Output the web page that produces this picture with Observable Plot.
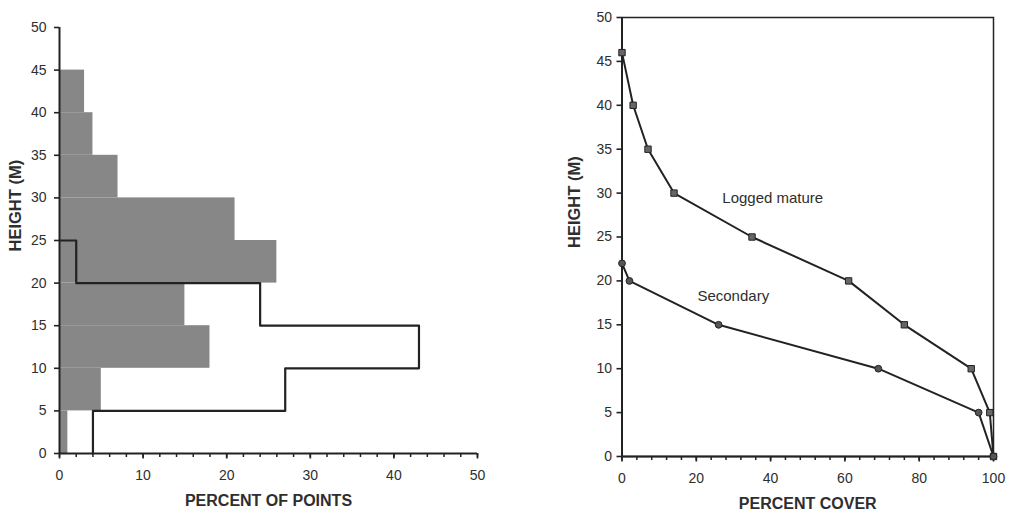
<!DOCTYPE html>
<html>
<head>
<meta charset="utf-8">
<script src="https://cdn.jsdelivr.net/npm/d3@7"></script>
<script src="https://cdn.jsdelivr.net/npm/@observablehq/plot@0.6"></script>
<style>
  html, body { margin: 0; padding: 0; background: #fff; }
  #wrap { display: flex; width: 1015px; height: 517px; overflow: hidden; }
</style>
</head>
<body>
<div id="wrap"></div>
<script>
// ---- Left panel: histogram (percent of points by height class) ----
const binLower = [0, 5, 10, 15, 20, 25, 30, 35, 40, 45];
const binWidth = 5;
const loggedPct = [1, 5, 18, 15, 26, 21, 7, 4, 3, 0];      // gray filled bars
const secondaryPct = [4, 27, 43, 24, 2, 0, 0, 0, 0, 0];    // black outline
const leftXTicks = [0, 10, 20, 30, 40, 50];
const leftXMinor = d3.range(0, 51, 2);
const heightTicks = [0, 5, 10, 15, 20, 25, 30, 35, 40, 45, 50];

// ---- Right panel: cumulative percent cover by height ----
const loggedHeights = [46, 40, 35, 30, 25, 20, 15, 10, 5, 0];
const loggedCover = [0, 3, 7, 14, 35, 61, 76, 94, 99, 100];
const secondaryHeights = [22, 20, 15, 10, 5, 0];
const secondaryCover = [0, 2, 26, 69, 96, 100];
const rightXTicks = [0, 20, 40, 60, 80, 100];
const rightXMinor = d3.range(0, 101, 4);
const seriesLabels = [
  {name: "Logged mature", cover: 27, height: 29.4},
  {name: "Secondary", cover: 20.3, height: 18.3}
];

const FONT = "'Liberation Sans', Arial, Helvetica, sans-serif";
const INK = "#222";
const TXT = "#2e2e2e";

// build tables
const barsLogged = binLower.map((lo, i) => ({lo, hi: lo + binWidth, v: loggedPct[i]})).filter(d => d.v > 0);
// step outline of the secondary histogram, from the top of the highest non-empty bin down to 0
const secIdx = binLower.map((_, i) => i).filter(i => secondaryPct[i] > 0).reverse();
const outline = [{x: 0, y: binLower[secIdx[0]] + binWidth}];
for (const i of secIdx) {
  outline.push({x: secondaryPct[i], y: binLower[i] + binWidth});
  outline.push({x: secondaryPct[i], y: binLower[i]});
}
const logged = loggedHeights.map((h, i) => ({h, c: loggedCover[i]}));
const secondary = secondaryHeights.map((h, i) => ({h, c: secondaryCover[i]}));

// outward tick marks via the axis marks
function tickMarks(minor, major, yTicks) {
  return [
    Plot.axisX(minor, {tickSize: 4, tickFormat: () => "", label: null, stroke: INK, strokeWidth: 1.5}),
    Plot.axisX(major, {tickSize: 5.5, tickFormat: () => "", label: null, stroke: INK, strokeWidth: 1.7}),
    Plot.axisY(yTicks, {tickSize: 5, tickFormat: () => "", label: null, stroke: INK, strokeWidth: 1.6})
  ];
}

const left = Plot.plot({
  width: 540, height: 517,
  marginLeft: 59, marginRight: 63, marginTop: 27, marginBottom: 64,
  style: {fontFamily: FONT, fontSize: "14px", color: TXT, background: "transparent"},
  x: {domain: [0, 50]},
  y: {domain: [0, 50]},
  marks: [
    Plot.rectX(barsLogged, {x1: 0, x2: "v", y1: "lo", y2: "hi", fill: "#878787", inset: 0}),
    Plot.line(outline, {x: "x", y: "y", stroke: INK, strokeWidth: 2.2, curve: "linear"}),
    Plot.ruleX([0], {stroke: INK, strokeWidth: 2}),
    Plot.ruleY([0], {stroke: INK, strokeWidth: 2}),
    ...tickMarks(leftXMinor, leftXTicks, heightTicks),
    Plot.axisX(leftXTicks, {tickSize: 0, tickPadding: 17, label: null, fill: TXT}),
    Plot.axisY(heightTicks, {tickSize: 0, tickPadding: 13, label: null, fill: TXT}),
    Plot.text(["PERCENT OF POINTS"], {frameAnchor: "bottom", dy: 52, fontWeight: "bold", fontSize: 16, fill: TXT}),
    Plot.text(["HEIGHT (M)"], {frameAnchor: "left", dx: -44, dy: 11, rotate: -90, fontWeight: "bold", fontSize: 16.5, fill: TXT})
  ]
});

const right = Plot.plot({
  width: 475, height: 517,
  marginLeft: 81.5, marginRight: 22, marginTop: 17, marginBottom: 61,
  style: {fontFamily: FONT, fontSize: "14px", color: TXT, background: "transparent"},
  x: {domain: [0, 100]},
  y: {domain: [0, 50]},
  marks: [
    Plot.frame({stroke: INK, strokeWidth: 1.5}),
    Plot.ruleX([0], {stroke: INK, strokeWidth: 2}),
    Plot.ruleY([0], {stroke: INK, strokeWidth: 2}),
    ...tickMarks(rightXMinor, rightXTicks, heightTicks),
    Plot.line(logged, {x: "c", y: "h", stroke: INK, strokeWidth: 2}),
    Plot.line(secondary, {x: "c", y: "h", stroke: INK, strokeWidth: 2}),
    Plot.dot(logged, {x: "c", y: "h", symbol: "square", r: 3.6, fill: "#666", stroke: INK, strokeWidth: 1}),
    Plot.dot(secondary, {x: "c", y: "h", symbol: "circle", r: 3.4, fill: "#555", stroke: INK, strokeWidth: 1}),
    Plot.axisX(rightXTicks, {tickSize: 0, tickPadding: 17, label: null, fill: TXT}),
    Plot.axisY(heightTicks, {tickSize: 0, tickPadding: 10, label: null, fill: TXT}),
    Plot.text(seriesLabels, {x: "cover", y: "height", text: "name", textAnchor: "start", fontSize: 15, fill: TXT}),
    Plot.text(["PERCENT COVER"], {frameAnchor: "bottom", dy: 52, fontWeight: "bold", fontSize: 16, fill: TXT}),
    Plot.text(["HEIGHT (M)"], {frameAnchor: "left", dx: -47, dy: 11, rotate: -90, fontWeight: "bold", fontSize: 16.5, fill: TXT})
  ]
});

const wrap = document.getElementById("wrap");
wrap.appendChild(left);
wrap.appendChild(right);
</script>
</body>
</html>
